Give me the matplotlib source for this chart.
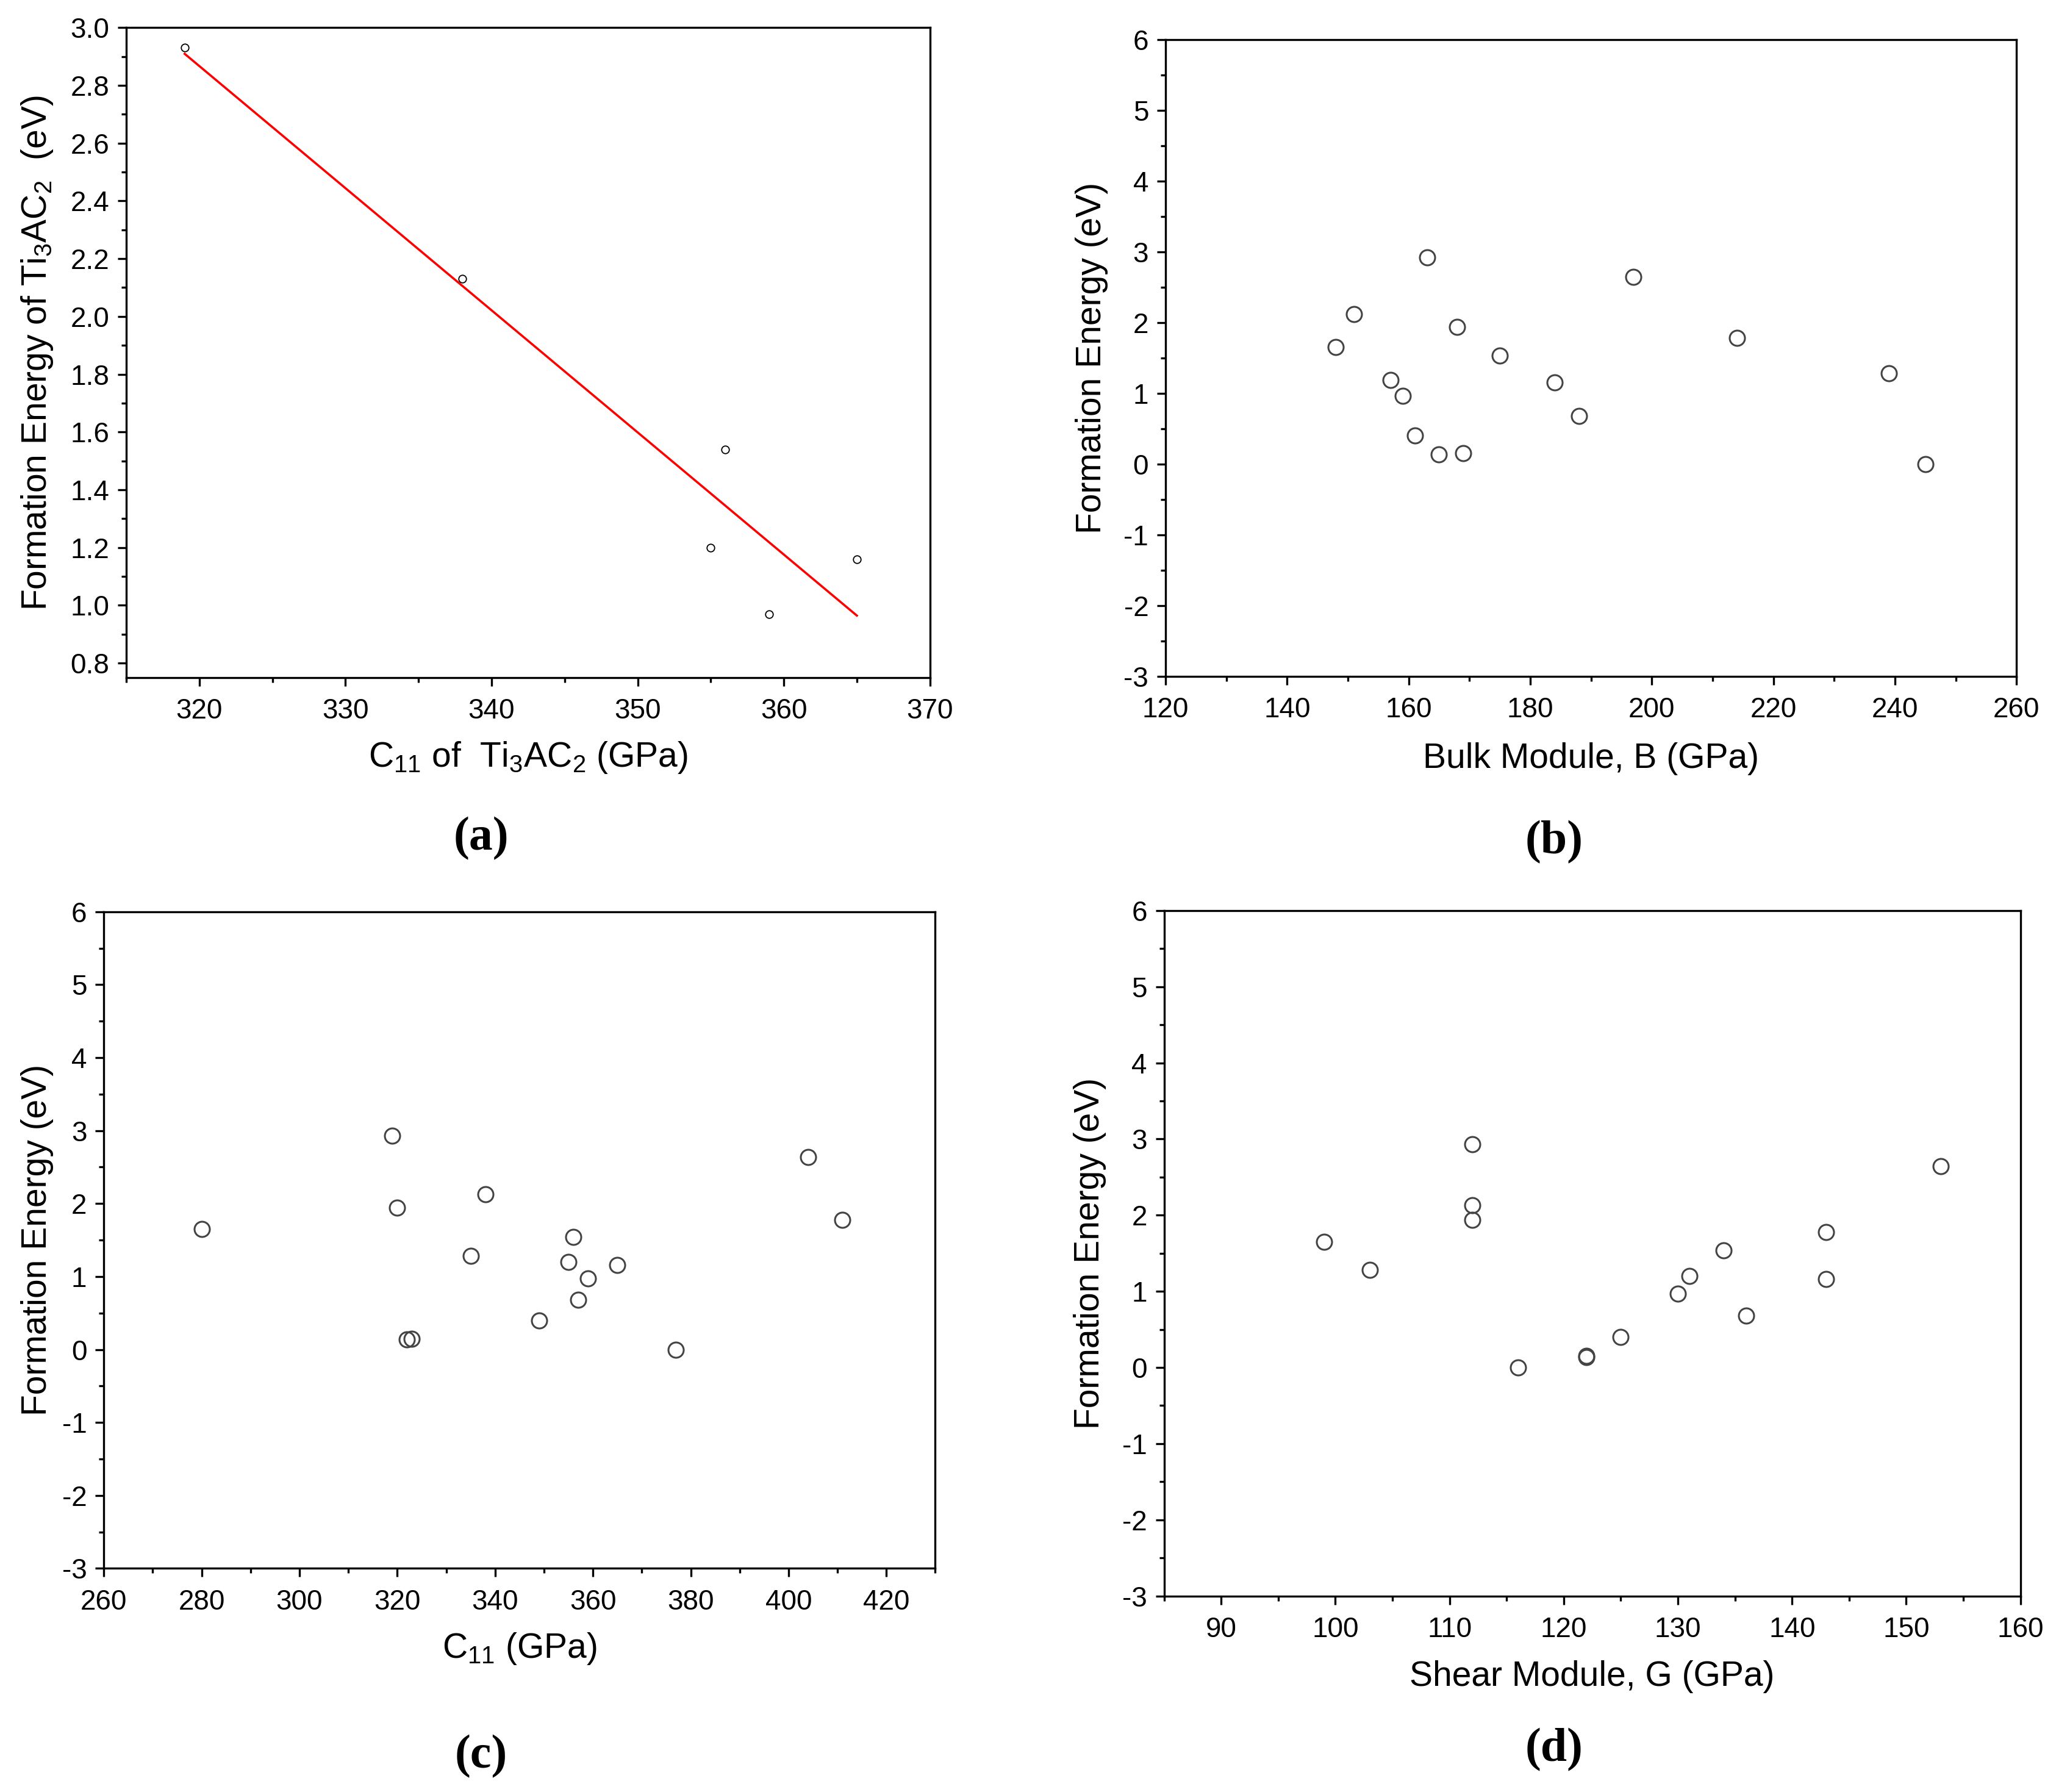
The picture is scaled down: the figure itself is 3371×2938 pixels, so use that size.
import matplotlib
matplotlib.use("Agg")
import matplotlib.pyplot as plt
from matplotlib.ticker import MultipleLocator, FormatStrFormatter
import numpy as np

plt.rcParams['font.family'] = ['Liberation Sans', 'DejaVu Sans']
plt.rcParams['mathtext.fontset'] = 'custom'
plt.rcParams['mathtext.rm'] = 'Liberation Sans'
plt.rcParams['mathtext.it'] = 'Liberation Sans'
plt.rcParams['axes.unicode_minus'] = False

# (a) C11 of Ti3AC2 vs formation energy
a_c11 = [319, 338, 355, 356, 359, 365]
a_ef = [2.93, 2.13, 1.20, 1.54, 0.97, 1.16]

# (b) bulk modulus
b_bulk = [148, 151, 157, 159, 161, 163, 165, 168, 169, 175, 184, 188, 197, 214, 239, 245]
b_ef = [1.65, 2.12, 1.19, 0.96, 0.40, 2.92, 0.14, 1.94, 0.15, 1.53, 1.15, 0.68, 2.64, 1.78, 1.28, 0.0]

# (c) C11
c_c11 = [280, 319, 320, 322, 323, 335, 338, 349, 355, 356, 357, 359, 365, 377, 404, 411]
c_ef = [1.65, 2.93, 1.94, 0.14, 0.15, 1.28, 2.13, 0.40, 1.20, 1.54, 0.68, 0.97, 1.16, 0.0, 2.64, 1.78]

# (d) shear modulus
d_shear = [99, 103, 112, 112, 112, 116, 122, 122, 125, 130, 131, 134, 136, 143, 143, 153]
d_ef = [1.65, 1.28, 2.93, 2.13, 1.94, 0.0, 0.14, 0.15, 0.40, 0.97, 1.20, 1.54, 0.68, 1.78, 1.16, 2.64]

fig = plt.figure(figsize=(33.71, 29.38), dpi=100)

ax_a = fig.add_axes([0.0614, 0.6219, 0.3909, 0.3627])
ax_b = fig.add_axes([0.5669, 0.6226, 0.4139, 0.3554])
ax_c = fig.add_axes([0.0505, 0.1248, 0.4044, 0.3664])
ax_d = fig.add_axes([0.5662, 0.1094, 0.4165, 0.3825])

TICK_FS = 33
LABEL_FS = 41


def style_axis(ax, xmaj, xmin, ymaj, ymin):
    for s in ax.spines.values():
        s.set_linewidth(2.4)
        s.set_color('black')
    ax.xaxis.set_major_locator(MultipleLocator(xmaj))
    ax.xaxis.set_minor_locator(MultipleLocator(xmin))
    ax.yaxis.set_major_locator(MultipleLocator(ymaj))
    ax.yaxis.set_minor_locator(MultipleLocator(ymin))
    ax.tick_params(which='both', direction='out', top=False, right=False,
                   width=2.4, labelsize=TICK_FS, colors='black')
    ax.tick_params(which='major', length=10)
    ax.tick_params(which='minor', length=6)
    ax.tick_params(axis='x', which='major', pad=14)
    ax.tick_params(axis='y', which='major', pad=10)


# panel a
ax_a.plot(a_c11, a_ef, 'o', mfc='none', mec='black', ms=9, mew=1.3, zorder=3)
k, b0 = np.polyfit(a_c11, a_ef, 1)
xfit = np.array([min(a_c11), max(a_c11)])
ax_a.plot(xfit, k * xfit + b0, color='#ff0000', lw=2.6)
ax_a.set_xlim(315, 370)
ax_a.set_ylim(0.75, 3.0)
style_axis(ax_a, 10, 5, 0.2, 0.1)
ax_a.yaxis.set_major_formatter(FormatStrFormatter('%.1f'))
ax_a.set_xlabel(r'C$_{11}$ of  Ti$_3$AC$_2$ (GPa)', fontsize=LABEL_FS, labelpad=18)
ax_a.set_ylabel(r'Formation Energy of Ti$_3$AC$_2$  (eV)', fontsize=LABEL_FS, labelpad=18)

scatter_kw = dict(marker='o', ls='none', mfc='none', mec='#444444', ms=18, mew=2.2)

ax_b.plot(b_bulk, b_ef, **scatter_kw)
ax_b.set_xlim(120, 260)
ax_b.set_ylim(-3, 6)
style_axis(ax_b, 20, 10, 1, 0.5)
ax_b.set_xlabel('Bulk Module, B (GPa)', fontsize=LABEL_FS, labelpad=22)
ax_b.set_ylabel('Formation Energy (eV)', fontsize=LABEL_FS, labelpad=18)

ax_c.plot(c_c11, c_ef, **scatter_kw)
ax_c.set_xlim(260, 430)
ax_c.set_ylim(-3, 6)
style_axis(ax_c, 20, 10, 1, 0.5)
ax_c.set_xlabel(r'C$_{11}$ (GPa)', fontsize=LABEL_FS, labelpad=18)
ax_c.set_ylabel('Formation Energy (eV)', fontsize=LABEL_FS, labelpad=10)

ax_d.plot(d_shear, d_ef, **scatter_kw)
ax_d.set_xlim(85, 160)
ax_d.set_ylim(-3, 6)
style_axis(ax_d, 10, 5, 1, 0.5)
ax_d.set_xlabel('Shear Module, G (GPa)', fontsize=LABEL_FS, labelpad=20)
ax_d.set_ylabel('Formation Energy (eV)', fontsize=LABEL_FS, labelpad=19)

panel_kw = dict(fontsize=56, fontweight='bold', family='Liberation Serif',
                ha='center', va='center')
fig.text(0.234, 0.532, '(a)', **panel_kw)
fig.text(0.756, 0.530, '(b)', **panel_kw)
fig.text(0.234, 0.020, '(c)', **panel_kw)
fig.text(0.756, 0.0235, '(d)', **panel_kw)

fig.savefig('out.png', dpi=100, facecolor='white')
